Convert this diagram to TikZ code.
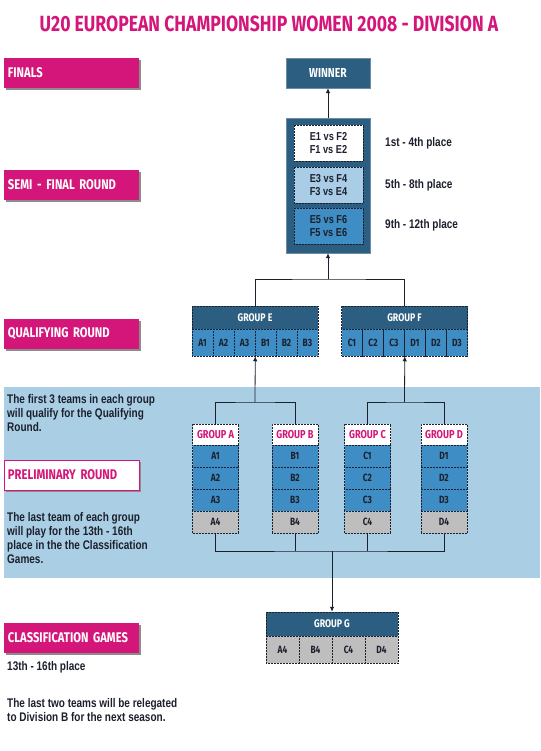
\documentclass[tikz,border=0pt]{standalone}
\usepackage{fontspec}
\setmainfont{Liberation Sans}[FakeStretch=0.8]
\newfontfamily\dispfont{Fira Sans}[FakeStretch=0.8]
\usepackage{xcolor}
\usepackage{tikz}
\usetikzlibrary{arrows.meta,shadows}

\definecolor{champpink}{RGB}{212,22,122}
\definecolor{champnavy}{RGB}{43,94,128}
\definecolor{champblue}{RGB}{62,141,196}
\definecolor{champpale}{RGB}{169,205,230}
\definecolor{champband}{RGB}{170,207,229}
\definecolor{champgrey}{RGB}{190,190,190}
\definecolor{champink}{RGB}{28,32,44}

\begin{document}
\begin{tikzpicture}[x=1pt, y=-1pt,
      arr/.style={-{Latex[length=5pt, width=4.5pt]}, line width=0.8pt, champink},
      link/.style={line width=0.8pt, champink},
      stage/.style={fill=champpink, text=white, font=\dispfont\bfseries\fontsize{14}{14}\selectfont,
        text width=127pt, align=left, inner xsep=4pt, minimum height=30pt,
        drop shadow={shadow xshift=2pt, shadow yshift=-2pt, fill=black!45, opacity=1}},
      note/.style={font=\bfseries\fontsize{12.5}{14}\selectfont, text=champink, align=left, inner sep=0pt},
      cell/.style={draw=champink, densely dotted, line width=0.5pt, inner sep=0pt, text=champink,
        font=\dispfont\bfseries\fontsize{10.5}{10.5}\selectfont},
      navyhead/.style={cell, fill=champnavy, text=white, font=\dispfont\bfseries\fontsize{11}{11}\selectfont},
      pinkhead/.style={cell, fill=white, text=champpink, minimum width=46pt, minimum height=21pt,
        font=\dispfont\bfseries\fontsize{11.5}{11.5}\selectfont},
      teamcell/.style={cell, minimum width=46pt, minimum height=22pt}
    ]

    \useasboundingbox (0,0) rectangle (540,751);

    % ══ TITLE ═══════════════════════════════════════════════════════════════
    \node[font=\dispfont\bfseries\fontsize{22}{22}\selectfont, text=champpink] (title) at (269,24)
      {U20 EUROPEAN CHAMPIONSHIP WOMEN 2008 - DIVISION A};

    % ══ LEFT COLUMN: stages ═════════════════════════════════════════════════
    \node[stage] (finals) at (71.5,73) {FINALS};
    \node[stage] (semifinal) at (71.5,185) {SEMI - FINAL ROUND};
    \node[stage] (qualifying) at (71.5,334) {QUALIFYING ROUND};

    % light band behind the preliminary round
    \fill[champband] (4,387) rectangle (540,578);

    \node[stage, fill=white, draw=champpink, line width=0.8pt, text=champpink] (preliminary) at (71.5,475)
      {PRELIMINARY ROUND};
    \node[stage] (classification) at (71.5,638) {CLASSIFICATION GAMES};

    \node[note, anchor=west] (qualnote) at (7,413)
      {The first 3 teams in each group\\will qualify for the Qualifying\\Round.};
    \node[note, anchor=west] (lastnote) at (7,538.5)
      {The last team of each group\\will play for the 13th - 16th\\place in the the Classification\\Games.};
    \node[note, anchor=west] (placenote) at (7,667) {13th - 16th place};
    \node[note, anchor=west] (relegnote) at (7,710)
      {The last two teams will be relegated\\to Division B for the next season.};

    % ══ FINALS / SEMI-FINALS ════════════════════════════════════════════════
    \node[fill=champnavy, draw=champnavy!70, minimum width=84pt, minimum height=30pt,
      text=white, font=\dispfont\bfseries\fontsize{13}{13}\selectfont] (winner) at (328,73) {WINNER};

    \node[fill=champnavy, draw=champnavy!70, minimum width=84pt, minimum height=135pt] (semi) at (328,185.5) {};
    \node[cell, fill=white, minimum width=69pt, minimum height=36pt, align=center,
      font=\bfseries\fontsize{11.5}{13}\selectfont] (sf1) at (328.5,143) {E1 vs F2\\F1 vs E2};
    \node[cell, fill=champpale, minimum width=69pt, minimum height=36pt, align=center,
      font=\bfseries\fontsize{11.5}{13}\selectfont] (sf2) at (328.5,185) {E3 vs F4\\F3 vs E4};
    \node[cell, fill=champblue, minimum width=69pt, minimum height=36pt, align=center,
      font=\bfseries\fontsize{11.5}{13}\selectfont] (sf3) at (328.5,226) {E5 vs F6\\F5 vs E6};

    \node[note, anchor=west] (place1) at (385,143) {1st - 4th place};
    \node[note, anchor=west] (place2) at (385,185) {5th - 8th place};
    \node[note, anchor=west] (place3) at (385,225) {9th - 12th place};

    \draw[arr] (semi.north) -- (winner.south);

    % ══ QUALIFYING ROUND: groups E and F ════════════════════════════════════
    \node[navyhead, minimum width=126pt, minimum height=23pt] (hE) at (255,317.5) {GROUP E};
    \node[cell, fill=champblue, minimum width=21pt, minimum height=27pt] (cE1) at (202.5,342.5) {A1};
    \node[cell, fill=champblue, minimum width=21pt, minimum height=27pt] (cE2) at (223.5,342.5) {A2};
    \node[cell, fill=champblue, minimum width=21pt, minimum height=27pt] (cE3) at (244.5,342.5) {A3};
    \node[cell, fill=champblue, minimum width=21pt, minimum height=27pt] (cE4) at (265.5,342.5) {B1};
    \node[cell, fill=champblue, minimum width=21pt, minimum height=27pt] (cE5) at (286.5,342.5) {B2};
    \node[cell, fill=champblue, minimum width=21pt, minimum height=27pt] (cE6) at (307.5,342.5) {B3};

    \node[navyhead, minimum width=126pt, minimum height=23pt] (hF) at (404.5,317.5) {GROUP F};
    \node[cell, fill=champblue, minimum width=21pt, minimum height=27pt] (cF1) at (352,342.5) {C1};
    \node[cell, fill=champblue, minimum width=21pt, minimum height=27pt] (cF2) at (373,342.5) {C2};
    \node[cell, fill=champblue, minimum width=21pt, minimum height=27pt] (cF3) at (394,342.5) {C3};
    \node[cell, fill=champblue, minimum width=21pt, minimum height=27pt] (cF4) at (415,342.5) {D1};
    \node[cell, fill=champblue, minimum width=21pt, minimum height=27pt] (cF5) at (436,342.5) {D2};
    \node[cell, fill=champblue, minimum width=21pt, minimum height=27pt] (cF6) at (457,342.5) {D3};

    \coordinate (efjoin) at (328,279);
    \draw[link] (hE.north) |- (efjoin) -| (hF.north);
    \draw[arr] (efjoin) -- (semi.south);

    % ══ PRELIMINARY ROUND: groups A to D ════════════════════════════════════
    \node[pinkhead] (hA) at (215.5,434.5) {GROUP A};
    \node[teamcell, fill=champblue] (cA1) at (215.5,456) {A1};
    \node[teamcell, fill=champblue] (cA2) at (215.5,478) {A2};
    \node[teamcell, fill=champblue] (cA3) at (215.5,500) {A3};
    \node[teamcell, fill=champgrey] (cA4) at (215.5,522) {A4};

    \node[pinkhead] (hB) at (295,434.5) {GROUP B};
    \node[teamcell, fill=champblue] (cB1) at (295,456) {B1};
    \node[teamcell, fill=champblue] (cB2) at (295,478) {B2};
    \node[teamcell, fill=champblue] (cB3) at (295,500) {B3};
    \node[teamcell, fill=champgrey] (cB4) at (295,522) {B4};

    \node[pinkhead] (hC) at (367.5,434.5) {GROUP C};
    \node[teamcell, fill=champblue] (cC1) at (367.5,456) {C1};
    \node[teamcell, fill=champblue] (cC2) at (367.5,478) {C2};
    \node[teamcell, fill=champblue] (cC3) at (367.5,500) {C3};
    \node[teamcell, fill=champgrey] (cC4) at (367.5,522) {C4};

    \node[pinkhead] (hD) at (444,434.5) {GROUP D};
    \node[teamcell, fill=champblue] (cD1) at (444,456) {D1};
    \node[teamcell, fill=champblue] (cD2) at (444,478) {D2};
    \node[teamcell, fill=champblue] (cD3) at (444,500) {D3};
    \node[teamcell, fill=champgrey] (cD4) at (444,522) {D4};

    \coordinate (abjoin) at (255,402);
    \draw[link] (hA.north) |- (abjoin) -| (hB.north);
    \draw[arr] (abjoin) -- (cE3.south east);

    \coordinate (cdjoin) at (404.5,402);
    \draw[link] (hC.north) |- (cdjoin) -| (hD.north);
    \draw[arr] (cdjoin) -- (cF3.south east);

    % ══ CLASSIFICATION: group G ═════════════════════════════════════════════
    \node[navyhead, minimum width=132pt, minimum height=24pt] (hG) at (332,624) {GROUP G};
    \node[cell, fill=champgrey, minimum width=33pt, minimum height=27pt] (cG1) at (282.5,649.5) {A4};
    \node[cell, fill=champgrey, minimum width=33pt, minimum height=27pt] (cG2) at (315.5,649.5) {B4};
    \node[cell, fill=champgrey, minimum width=33pt, minimum height=27pt] (cG3) at (348.5,649.5) {C4};
    \node[cell, fill=champgrey, minimum width=33pt, minimum height=27pt] (cG4) at (381.5,649.5) {D4};

    \coordinate (gjoin) at (332,551);
    \draw[link] (cA4.south) |- (gjoin) -| (cD4.south);
    \draw[link] (cB4.south) -- (cB4.south |- gjoin);
    \draw[link] (cC4.south) -- (cC4.south |- gjoin);
    \draw[arr] (gjoin) -- (hG.north);

  \end{tikzpicture}
\end{document}
